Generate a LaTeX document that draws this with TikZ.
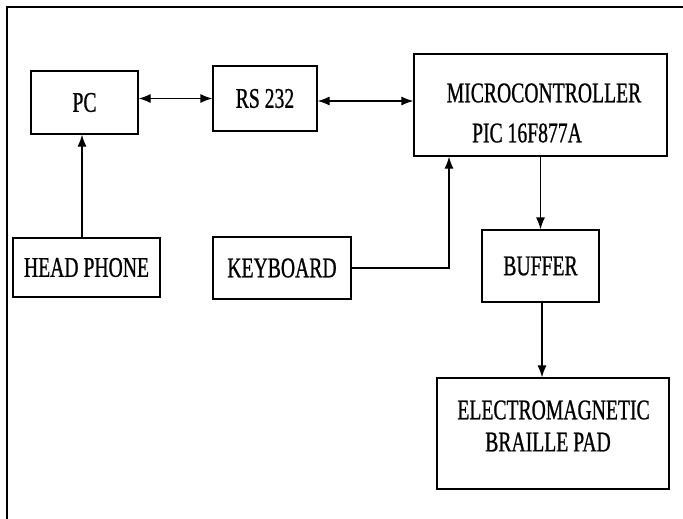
\documentclass[tikz,border=0pt]{standalone}
\usepackage{fontspec}
\setmainfont{Liberation Serif}[FakeStretch=0.69,FakeBold=0.8]
\usetikzlibrary{arrows.meta}

\begin{document}
\begin{tikzpicture}[x=1pt,y=1pt,>={Latex[length=12pt,width=9pt]},line width=1.2pt,
  every node/.style={font=\fontsize{28.5}{32}\selectfont},
  blk/.style={draw, inner sep=0pt}]
\useasboundingbox (0,0) rectangle (683,-519);
% frame, only top and left are visible
\draw[line width=1.8pt] (683,-7) -- (7,-7) -- (7,-519);

% top row
\node[blk, minimum width=107pt, minimum height=63pt] (pc) at (84.5,-102.5) {PC};
\node[blk, minimum width=104pt, minimum height=65pt] (rs) at (265,-98.5) {RS 232};
\node[blk, minimum width=253pt, minimum height=102pt] (mc) at (540.5,-105) {};
\node (mcname) at (544,-93) {MICROCONTROLLER};
\node (mcpart) at (527,-133) {PIC 16F877A};

% middle row
\node[blk, minimum width=147pt, minimum height=59pt] (hp) at (86.5,-267.5) {HEAD PHONE};
\node[blk, minimum width=138pt, minimum height=62pt] (kb) at (282,-268) {KEYBOARD};
\node[blk, minimum width=117pt, minimum height=72pt] (buf) at (540.5,-266) {BUFFER};

% bottom
\node[blk, minimum width=232pt, minimum height=111pt] (pad) at (553,-433.5) {};
\node (padtop) at (553.5,-410) {ELECTROMAGNETIC};
\node (padbot) at (548,-442) {BRAILLE PAD};

% links
\draw[<->] (pc.east |- rs.west) -- (rs.west);
\draw[<->] ([yshift=-2.5pt]rs.east) -- ([yshift=-2.5pt]rs.east -| mc.west);
\draw[->] ([xshift=-4.5pt]hp.north) -- ([xshift=-4.5pt]hp.north |- pc.south);
\draw[->] (kb.east) -| ([xshift=-91.5pt]mc.south);
\draw[->] (mc.south) -- (buf.north);
\draw[->] ([xshift=1.5pt]buf.south) -- ([xshift=1.5pt]buf.south |- pad.north);
\end{tikzpicture}
\end{document}
